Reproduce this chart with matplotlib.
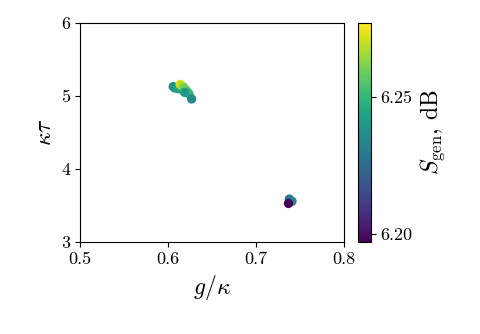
import numpy as np
import matplotlib
matplotlib.use("Agg")
import matplotlib.pyplot as plt

plt.rcParams["font.family"] = "serif"
plt.rcParams["font.serif"] = ["cmr10", "DejaVu Serif"]
plt.rcParams["mathtext.fontset"] = "cm"
plt.rcParams["axes.formatter.use_mathtext"] = True
plt.rcParams["axes.unicode_minus"] = False

# optimisation results: g/kappa, kappa*tau, squeezing (dB)
g_kappa = [0.606, 0.608, 0.612, 0.614, 0.616, 0.618, 0.620, 0.622, 0.624, 0.619, 0.627,
           0.738, 0.741, 0.737]
kappa_tau = [5.13, 5.11, 5.10, 5.16, 5.14, 5.12, 5.09, 5.06, 5.03, 5.05, 4.96,
             3.59, 3.56, 3.53]
s_gen = [6.236, 6.238, 6.245, 6.272, 6.268, 6.262, 6.258, 6.254, 6.250, 6.240, 6.234,
         6.228, 6.232, 6.197]

fig = plt.figure(figsize=(4.81, 3.34), dpi=100)
ax = fig.add_axes([0.166, 0.275, 0.549, 0.656])
cax = fig.add_axes([0.744, 0.275, 0.027, 0.656])

sc = ax.scatter(g_kappa, kappa_tau, c=s_gen, cmap="viridis", s=45,
                vmin=6.197, vmax=6.277, edgecolors="none")
ax.set_xlim(0.5, 0.8)
ax.set_ylim(3, 6)
ax.set_xticks([0.5, 0.6, 0.7, 0.8])
ax.set_yticks([3, 4, 5, 6])
ax.set_xticklabels(["0.5", "0.6", "0.7", "0.8"])
ax.set_yticklabels(["3", "4", "5", "6"])
ax.tick_params(labelsize=13)
ax.set_xlabel(r"$g/\kappa$", fontsize=17)
ax.set_ylabel(r"$\kappa\tau$", fontsize=17)

cb = fig.colorbar(sc, cax=cax)
cb.set_ticks([6.20, 6.25])
cb.set_ticklabels(["6.20", "6.25"])
cb.ax.tick_params(labelsize=13)
cb.set_label(r"$S_{\rm gen}$, dB", fontsize=17)

fig.savefig("out.png", dpi=100)
